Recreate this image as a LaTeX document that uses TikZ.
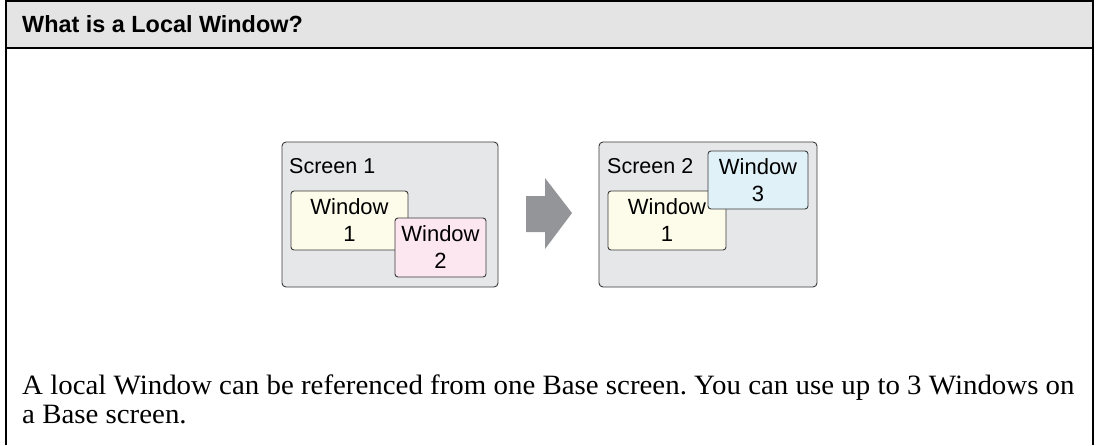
\documentclass[tikz,border=0pt]{standalone}
\usepackage{fontspec}
\setmainfont{Liberation Serif}
\setsansfont{Liberation Sans}
\frenchspacing
\definecolor{hdrfill}{HTML}{E4E4E4}
\definecolor{scrfill}{HTML}{E6E7E9}
\definecolor{edge}{HTML}{3A3A3A}
\definecolor{yelfill}{HTML}{FDFBE9}
\definecolor{pinkfill}{HTML}{FCE6EF}
\definecolor{bluefill}{HTML}{E0F1F8}
\definecolor{arrgray}{HTML}{949599}
\begin{document}
\begin{tikzpicture}[x=1pt,y=-1pt,
  frameline/.style={line width=2pt, black},
  screenbox/.style={draw=edge, fill=scrfill, rounded corners=4pt, line width=0.9pt, inner sep=0pt},
  winbox/.style={draw=edge, rounded corners=3pt, line width=0.9pt, inner sep=0pt, align=center,
    font=\sffamily\fontsize{22}{27}\selectfont},
  lbl/.style={font=\sffamily\fontsize{21.5}{24}\selectfont, inner sep=0pt, anchor=base west},
  bodytxt/.style={font=\fontsize{28}{29}\selectfont, inner sep=0pt, anchor=base west, xscale=1.032}]
\useasboundingbox (0,0) rectangle (1097,445);
% header
\fill[hdrfill] (5.5,1) rectangle (1093,48);
\draw[frameline] (5.5,445) -- (5.5,1) -- (1093,1) -- (1093,445);
\draw[frameline] (5.5,48) -- (1093,48);
\node[inner sep=0pt, anchor=base west, font=\sffamily\bfseries\fontsize{23.4}{28}\selectfont] (title) at (22,32) {What is a Local Window?};
% screen 1
\node[screenbox, minimum width=216pt, minimum height=145pt] (s1) at (390,214.5) {};
\node[lbl] (s1l) at (289,173) {Screen 1};
\node[winbox, fill=yelfill, minimum width=117pt, minimum height=59pt] (w11) at (349.5,220.5) {Window\\1};
\node[winbox, fill=pinkfill, minimum width=91pt, minimum height=59pt] (w12) at (440.5,247.5) {Window\\2};
% arrow
\fill[arrgray] (526,196) -- (545,196) -- (545,178) -- (572,213) -- (545,249) -- (545,232) -- (526,232) -- cycle;
% screen 2
\node[screenbox, minimum width=218pt, minimum height=145pt] (s2) at (708,214.5) {};
\node[lbl] (s2l) at (607,173) {Screen 2};
\node[winbox, fill=yelfill, minimum width=118pt, minimum height=59pt] (w21) at (667,220.5) {Window\\1};
\node[winbox, fill=bluefill, minimum width=100pt, minimum height=58pt] (w23) at (758,180) {Window\\3};
% body text
\node[bodytxt] (t1) at (22,394) {A local Window can be referenced from one Base screen. You can use up to 3 Windows on};
\node[bodytxt] (t2) at (22,423) {a Base screen.};
\end{tikzpicture}
\end{document}
